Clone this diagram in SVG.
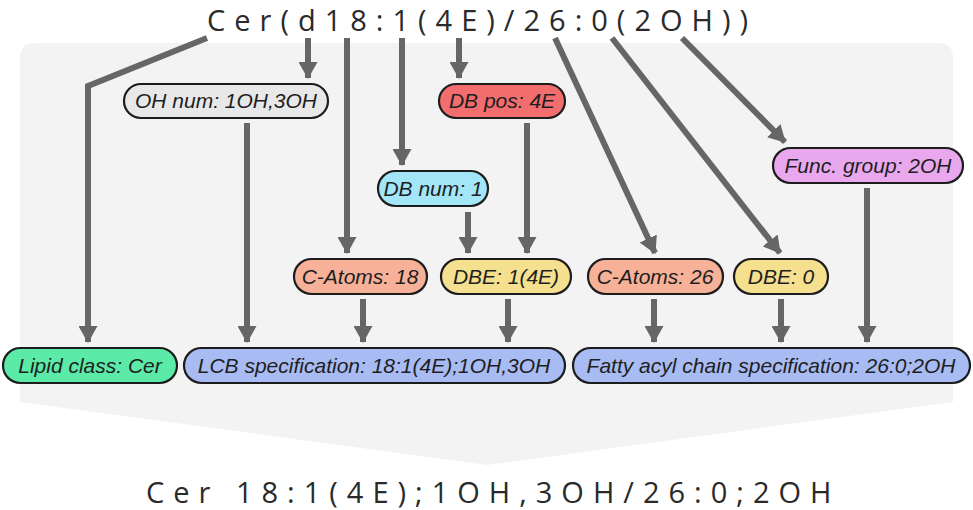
<svg xmlns="http://www.w3.org/2000/svg" width="973" height="510" viewBox="0 0 973 510">
<style>
.node rect{stroke:#1c1c1c;stroke-width:2.2}
.node text{font-family:"Liberation Sans",Arial,sans-serif;font-style:italic;font-size:21px;fill:#1e1e1e;text-anchor:middle}
.big{font-family:"Open Sans","Noto Sans",sans-serif;font-size:29px;fill:#2a2a2a;letter-spacing:9px}
#connectors path{fill:none;stroke:#666;stroke-width:6}
#connectors .a{marker-end:url(#ah)}
</style>
<defs>
<marker id="ah" markerUnits="userSpaceOnUse" markerWidth="18" markerHeight="19" refX="16" refY="9.5" orient="auto" viewBox="0 0 18 19">
<path d="M0,0 L17,9.5 L0,19 Z" fill="#666"/>
</marker>
</defs>
<rect width="973" height="510" fill="#ffffff"/>
<path id="background" d="M20,58 Q20,43 35,43 L938,43 Q953,43 953,58 L953,402 L487,465 L20,402 Z" fill="#f3f3f3"/>
<text class="big" x="207" y="31">Cer(d18:1(4E)/26:0(2OH))</text>
<text class="big" x="146" y="503">Cer 18:1(4E);1OH,3OH/26:0;2OH</text>
<g id="connectors">
<path class="a" d="M207,38 L88,86 L88,342"/>
<path class="a" d="M308,38 L308,78"/>
<path class="a" d="M347,38 L347,253"/>
<path class="a" d="M402,38 L402,165"/>
<path class="a" d="M459,38 L459,78"/>
<path class="a" d="M555,38 L655,253"/>
<path class="a" d="M612,38 L780,253"/>
<path class="a" d="M682,38 L785,142"/>
<path class="a" d="M247,123 L247,342"/>
<path class="a" d="M527,123 L527,253"/>
<path class="a" d="M468,212 L468,253"/>
<path class="a" d="M363,299 L363,342"/>
<path class="a" d="M508,299 L508,342"/>
<path class="a" d="M654,299 L654,342"/>
<path class="a" d="M781,299 L781,342"/>
<path class="a" d="M867,188 L867,342"/>
</g>
<g id="oh-num" class="node"><rect x="124" y="84" width="204" height="34" rx="17" fill="#e8e8e8"/><text x="226" y="108">OH num: 1OH,3OH</text></g>
<g id="db-pos" class="node"><rect x="439" y="84" width="126" height="34" rx="17" fill="#f26d6d"/><text x="502" y="108">DB pos: 4E</text></g>
<g id="db-num" class="node"><rect x="378" y="171" width="110" height="35" rx="17.5" fill="#a3e6f7"/><text x="433" y="196">DB num: 1</text></g>
<g id="func-group" class="node"><rect x="773" y="148" width="190" height="35" rx="17.5" fill="#e9a8ee"/><text x="868" y="173">Func. group: 2OH</text></g>
<g id="c-atoms-18" class="node"><rect x="294" y="259" width="133" height="35" rx="17.5" fill="#f7b199"/><text x="360" y="284">C-Atoms: 18</text></g>
<g id="dbe-1" class="node"><rect x="441" y="259" width="130" height="35" rx="17.5" fill="#f4e08f"/><text x="506" y="284">DBE: 1(4E)</text></g>
<g id="c-atoms-26" class="node"><rect x="588" y="259" width="135" height="35" rx="17.5" fill="#f7b199"/><text x="655" y="284">C-Atoms: 26</text></g>
<g id="dbe-0" class="node"><rect x="734" y="259" width="94" height="35" rx="17.5" fill="#f4e08f"/><text x="781" y="284">DBE: 0</text></g>
<g id="lipid-class" class="node"><rect x="3" y="348" width="174" height="35" rx="17.5" fill="#5ceaa8"/><text x="90" y="373">Lipid class: Cer</text></g>
<g id="lcb" class="node"><rect x="184" y="348" width="381" height="35" rx="17.5" fill="#a8bcf3"/><text x="374" y="373">LCB specification: 18:1(4E);1OH,3OH</text></g>
<g id="fatty-acyl" class="node"><rect x="573" y="348" width="397" height="35" rx="17.5" fill="#a8bcf3"/><text x="771" y="373">Fatty acyl chain specification: 26:0;2OH</text></g>
</svg>
